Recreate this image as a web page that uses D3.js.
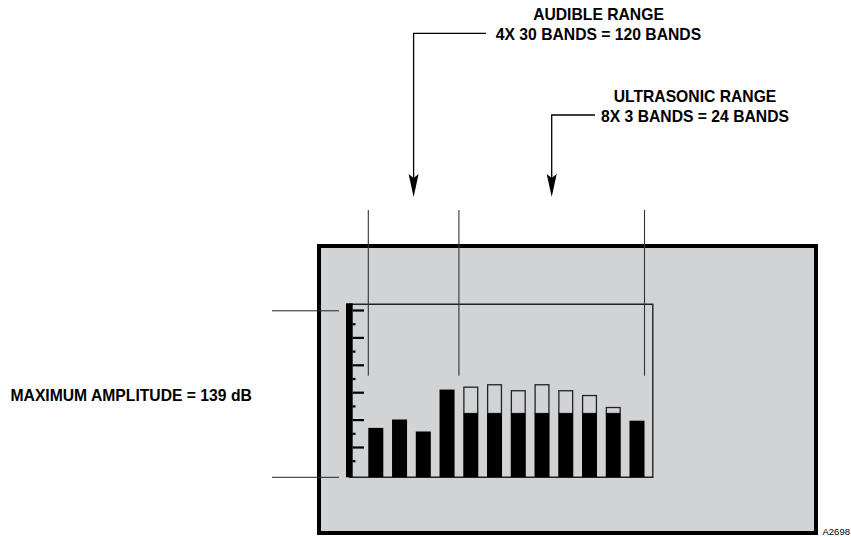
<!DOCTYPE html>
<html>
<head>
<meta charset="utf-8">
<script src="https://cdn.jsdelivr.net/npm/d3@7"></script>
<style>
  body { margin: 0; background: #fff; }
  svg { display: block; font-family: "Liberation Sans", Arial, Helvetica, sans-serif; }
</style>
</head>
<body>
<svg id="chart"></svg>
<script>
// band bars of the display
const bands = ['1', '2', '3', '4', '5', '6', '7', '8', '9', '10', '11', '12'];
const solidDb = [41, 48, 38, 73, 53, 53, 53, 53, 53, 53, 53, 47];
const peakDb  = [41, 48, 38, 73, 75, 77, 72, 77, 72, 68, 58, 47];
const maxDb = 139;
const scaleTicks = [1, 2, 3, 4, 5, 6, 7, 8, 9, 10, 11, 12];

// ranges over the bands
const audibleBands = ['1', '4'];
const ultrasonicBands = ['5', '12'];
const audibleText = ['AUDIBLE RANGE', '4X 30 BANDS = 120 BANDS'];
const ultrasonicText = ['ULTRASONIC RANGE', '8X 3 BANDS = 24 BANDS'];
const amplitudeText = 'MAXIMUM AMPLITUDE = ' + maxDb + ' dB';
const figureId = 'A2698';

const W = 851, H = 537;
const bg = '#d1d3d4';

const svg = d3.select('#chart')
    .attr('width', W)
    .attr('height', H);

// outer panel
svg.append('rect')
    .attr('x', 319).attr('y', 246)
    .attr('width', 497).attr('height', 287)
    .attr('fill', bg)
    .attr('stroke', '#000')
    .attr('stroke-width', 4);

const xscale = d3.scaleBand()
    .domain(bands)
    .range([368.3, 644.5])
    .paddingInner(0.368)
    .paddingOuter(0);

const yscale = d3.scaleLinear()
    .domain([0, maxDb])
    .range([477, 310.5]);

const tscale = d3.scaleLinear()
    .domain([0, 12])
    .range([474.4, 310]);

const bw = xscale.bandwidth();

// inner frame
svg.append('path')
    .attr('d', `M349,304.2 H652.8 V477.3 H349`)
    .attr('fill', 'none')
    .attr('stroke', '#222')
    .attr('stroke-width', 1.4);

// peak outlines
svg.append('g')
    .selectAll('rect')
    .data(bands.filter((d, i) => peakDb[i] > solidDb[i]))
    .join('rect')
    .attr('x', d => xscale(d) + 0.6)
    .attr('y', d => yscale(peakDb[bands.indexOf(d)]))
    .attr('width', bw - 1.2)
    .attr('height', d => yscale(solidDb[bands.indexOf(d)]) - yscale(peakDb[bands.indexOf(d)]))
    .attr('fill', bg)
    .attr('stroke', '#222')
    .attr('stroke-width', 1.3);

// solid bars
svg.append('g')
    .selectAll('rect')
    .data(bands)
    .join('rect')
    .attr('x', d => xscale(d))
    .attr('y', (d, i) => yscale(solidDb[i]))
    .attr('width', bw)
    .attr('height', (d, i) => yscale(0) - yscale(solidDb[i]))
    .attr('fill', '#000');

// thick scale bar with ticks
svg.append('rect')
    .attr('x', 346).attr('y', 303.3)
    .attr('width', 6.7).attr('height', 174)
    .attr('fill', '#000');

const taxis = d3.axisRight(tscale)
    .tickValues(scaleTicks)
    .tickSize(0)
    .tickFormat('');
const tg = svg.append('g')
    .attr('transform', 'translate(352.5,0)')
    .call(taxis);
tg.select('.domain').remove();
tg.selectAll('.tick line')
    .attr('x2', d => d % 2 === 0 ? 11.5 : 3)
    .attr('stroke', '#000')
    .attr('stroke-width', 2.2);

// level markers at left
svg.append('g')
    .selectAll('line')
    .data([maxDb, 0])
    .join('line')
    .attr('x1', 272).attr('x2', 339)
    .attr('y1', d => yscale(d) + 0.3)
    .attr('y2', d => yscale(d) + 0.3)
    .attr('stroke', '#222')
    .attr('stroke-width', 1);

svg.append('text')
    .attr('x', 10.5).attr('y', 401)
    .style('font-size', '15.7px')
    .style('font-weight', 'bold')
    .text(amplitudeText);

// range divider lines
const leftEdge = xscale(audibleBands[0]);
const midEdge = (xscale(audibleBands[1]) + bw + xscale(ultrasonicBands[0])) / 2;
const rightEdge = xscale(ultrasonicBands[1]) + bw;
svg.append('g')
    .selectAll('line')
    .data([leftEdge, midEdge, rightEdge])
    .join('line')
    .attr('x1', d => d).attr('x2', d => d)
    .attr('y1', 210).attr('y2', 375.7)
    .attr('stroke', '#333')
    .attr('stroke-width', 1.1);

// callouts
const callouts = [
    { text: audibleText, tx: 598.5, ty: 20, ly: 33.3, lx2: 486, ax: (leftEdge + midEdge) / 2 },
    { text: ultrasonicText, tx: 695, ty: 102.3, ly: 115, lx2: 595, ax: (midEdge + rightEdge) / 2 }
];
const arrowTip = 197;

callouts.forEach(c => {
    const g = svg.append('g');
    g.selectAll('text')
        .data(c.text)
        .join('text')
        .attr('x', c.tx)
        .attr('y', (d, i) => c.ty + i * 19.5)
        .attr('text-anchor', 'middle')
        .style('font-size', '15.7px')
        .style('font-weight', 'bold')
        .text(d => d);
    g.append('path')
        .attr('d', `M${c.lx2},${c.ly} H${c.ax} V${arrowTip - 18}`)
        .attr('fill', 'none')
        .attr('stroke', '#000')
        .attr('stroke-width', 1.3);
    g.append('path')
        .attr('d', `M${c.ax - 5},${arrowTip - 23} L${c.ax},${arrowTip - 19} L${c.ax + 5},${arrowTip - 23} L${c.ax},${arrowTip} Z`)
        .attr('fill', '#000');
});

svg.append('text')
    .attr('x', 822.5).attr('y', 534.5)
    .style('font-size', '9.5px')
    .text(figureId);
</script>
</body>
</html>
